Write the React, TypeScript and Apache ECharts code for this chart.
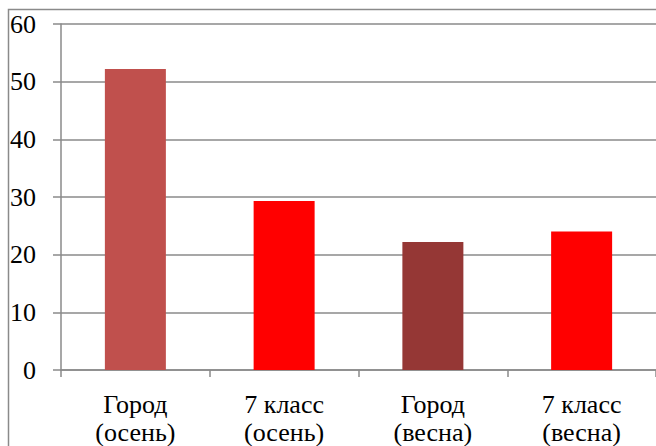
import React, { useEffect, useRef } from "react";
import * as echarts from "echarts";

const categories = ["Город\n(осень)", "7 класс\n(осень)", "Город\n(весна)", "7 класс\n(весна)"];
const values = [52.2, 29.3, 22.2, 24.0];
const barColors = ["#C0504D", "#FF0000", "#953735", "#FF0000"];
const yTicks = { min: 0, max: 60, interval: 10 };

export default function App() {
  const ref = useRef<HTMLDivElement>(null);
  useEffect(() => {
    document.body.style.margin = "0";
    const chart = echarts.init(ref.current!, null, { renderer: "svg" });
    const font = "Liberation Serif";
    chart.setOption({
      animation: false,
      backgroundColor: "#ffffff",
      textStyle: { fontFamily: font, fontSize: 26 },
      graphic: [
        {
          type: "rect",
          shape: { x: 8.5, y: 9.5, width: 700, height: 500 },
          style: { fill: "none", stroke: "#8a8a8a", lineWidth: 1.5 },
          silent: true,
          z: 100,
        },
      ],
      grid: { left: 61, top: 24, right: -5, bottom: 75, containLabel: false },
      xAxis: {
        type: "category",
        data: categories,
        axisLine: { lineStyle: { color: "#8a8a8a", width: 1.5 } },
        axisTick: { show: true, length: 7, lineStyle: { color: "#8a8a8a", width: 1.5 } },
        axisLabel: {
          color: "#000",
          fontFamily: font,
          fontSize: 26,
          fontWeight: "normal",
          lineHeight: 28,
          margin: 20,
          interval: 0,
        },
      },
      yAxis: {
        type: "value",
        min: yTicks.min,
        max: yTicks.max,
        interval: yTicks.interval,
        axisLine: { show: true, lineStyle: { color: "#8a8a8a", width: 1.5 } },
        axisTick: { show: true, length: 8, lineStyle: { color: "#8a8a8a", width: 1.5 } },
        splitLine: { lineStyle: { color: "#8a8a8a", width: 1.5 } },
        axisLabel: { color: "#000", fontFamily: font, fontSize: 26, margin: 25 },
      },
      series: [
        {
          type: "bar",
          barWidth: 61,
          data: values.map((v, i) => ({ value: v, itemStyle: { color: barColors[i] } })),
        },
      ],
    });
    return () => chart.dispose();
  }, []);
  return <div ref={ref} style={{ width: 656, height: 446 }} />;
}
